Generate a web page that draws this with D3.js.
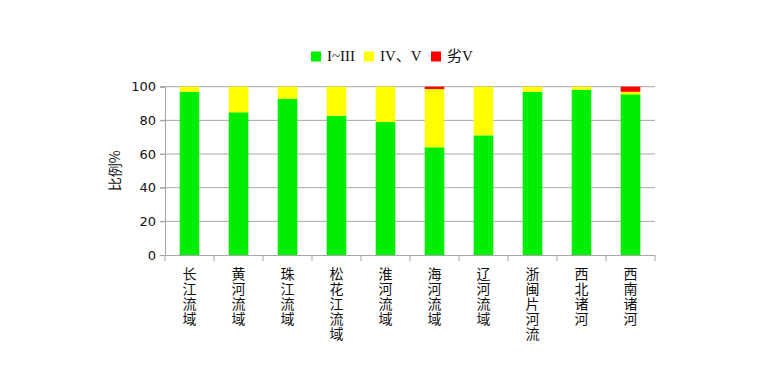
<!DOCTYPE html>
<html><head><meta charset="utf-8">
<script src="https://cdn.jsdelivr.net/npm/d3@7"></script>
<style>body{margin:0;background:#fff}</style>
</head><body>
<svg id="c" width="762" height="382"></svg>
<script>
const categories = ["长江流域","黄河流域","珠江流域","松花江流域","淮河流域","海河流域","辽河流域","浙闽片河流","西北诸河","西南诸河"];
const seriesNames = ["I~III","IV、V","劣V"];
const grade1_3 = [97.0, 84.8, 92.7, 82.8, 79.0, 64.0, 71.1, 97.0, 98.2, 95.5];
const grade4_5 = [3.0, 15.2, 7.3, 17.2, 21.0, 34.6, 28.9, 3.0, 1.8, 1.5];
const grade5plus = [0, 0, 0, 0, 0, 1.4, 0, 0, 0, 3.0];
const yTicks = [0, 20, 40, 60, 80, 100];
const colors = ["#00ee00", "#ffff00", "#ff0000"];

const svg = d3.select("#c");
const L = 165, R = 655, T = 86.7, B = 255;
const x = d3.scaleBand().domain(categories).range([L, R]).paddingInner(0.6).paddingOuter(0.3);
const xb = d3.scaleBand().domain(categories).range([L, R]);
const y = d3.scaleLinear().domain([0, 100]).range([B, T]);

const rows = categories.map((c, i) => ({cat: c, s0: grade1_3[i], s1: grade4_5[i], s2: grade5plus[i]}));
const stack = d3.stack().keys(["s0", "s1", "s2"])(rows);

// gridlines
svg.append("g").selectAll("line").data(yTicks.filter(d => d > 0)).join("line")
  .attr("x1", L - 5).attr("x2", R).attr("y1", d => y(d)).attr("y2", d => y(d))
  .attr("stroke", "#a6a6a6").attr("stroke-width", 1);

// bars
svg.append("g").selectAll("g").data(stack).join("g").attr("fill", (d, i) => colors[i])
  .selectAll("rect").data(d => d).join("rect")
  .attr("x", d => x(d.data.cat)).attr("width", x.bandwidth())
  .attr("y", d => y(d[1])).attr("height", d => Math.max(0, y(d[0]) - y(d[1])));

// y axis
const ya = d3.axisLeft(y).tickValues(yTicks).tickSize(5).tickPadding(4);
const gy = svg.append("g").attr("transform", `translate(${L},0)`).call(ya);
gy.select(".domain").attr("stroke", "#a6a6a6");
gy.selectAll(".tick line").attr("stroke", "#a6a6a6");
gy.selectAll("text").attr("font-family", "DejaVu Sans, sans-serif").attr("font-size", 13).attr("fill", "#111");

// x axis
svg.append("line").attr("x1", L).attr("x2", R).attr("y1", B + 0.5).attr("y2", B + 0.5).attr("stroke", "#a6a6a6");
const bounds = categories.map(c => xb(c)).concat([R]);
svg.append("g").selectAll("line").data(bounds).join("line")
  .attr("x1", d => d).attr("x2", d => d).attr("y1", B).attr("y2", B + 6).attr("stroke", "#a6a6a6");

// x labels vertical
svg.append("g").selectAll("text").data(categories).join("text")
  .attr("x", c => xb(c) + xb.bandwidth() / 2).attr("y", B + 12)
  .attr("font-family", "Noto Sans CJK SC, sans-serif").attr("font-size", 14).attr("fill", "#111")
  .style("writing-mode", "vertical-rl").style("text-orientation", "upright")
  .style("letter-spacing", "1px")
  .text(c => c);

// y label
svg.append("text").attr("transform", `translate(120,${(T + B) / 2}) rotate(-90)`)
  .attr("text-anchor", "middle").attr("font-family", "Noto Sans CJK SC, sans-serif").attr("font-size", 14)
  .attr("fill", "#111").text("比例%");

// legend
const legX = [311, 364, 431];
const lg = svg.append("g");
seriesNames.forEach((n, i) => {
  lg.append("rect").attr("x", legX[i]).attr("y", 51.5).attr("width", 10).attr("height", 10).attr("fill", colors[i]);
  lg.append("text").attr("x", legX[i] + 16).attr("y", 61).attr("font-family", "Liberation Serif, Noto Sans CJK SC, serif")
    .attr("font-size", 15).attr("fill", "#111").text(n);
});
</script>
</body></html>
